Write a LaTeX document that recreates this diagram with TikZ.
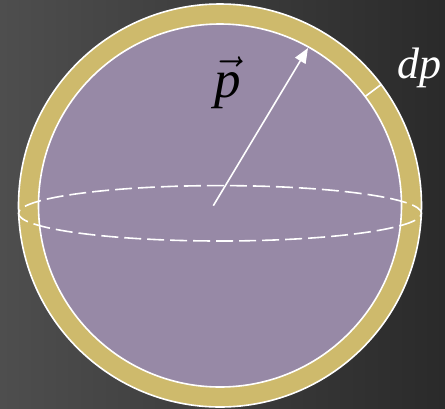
\documentclass[tikz,border=0pt]{standalone}
\usepackage{fix-cm}
\usepackage{fontspec}
\setmainfont{Liberation Serif}
\usetikzlibrary{arrows.meta,calc}
\definecolor{bgL}{RGB}{78,78,78}
\definecolor{bgR}{RGB}{42,42,42}
\definecolor{ringc}{RGB}{206,186,108}
\definecolor{ballc}{RGB}{151,137,166}
\tikzset{
  wline/.style={white,line width=1.6pt},
  lbl/.style={inner sep=0pt,anchor=base west}
}
\begin{document}
\begin{tikzpicture}[x=1pt,y=-1pt]
\shade[left color=bgL,right color=bgR] (0,0) rectangle (445,408);
\useasboundingbox (0,0) rectangle (445,408);
\coordinate (O) at (220,205.5);
\fill[ringc] (O) circle (201.5pt);
\draw[wline] (O) circle (201.5pt);
\fill[ballc] (O) circle (181.5pt);
\draw[wline] (O) circle (181.5pt);
% dp tick across ring
\coordinate (t1) at ($(O)+(36.9:181.5pt)$);
\coordinate (t2) at ($(O)+(36.9:201.5pt)$);
\draw[wline] (t1) -- (t2);
% equator ellipse
\coordinate (E) at (220,213.3);
\draw[wline,dash pattern=on 17pt off 6pt,dash phase=4pt] (E) ellipse (201.5pt and 27.7pt);
% momentum arrow
\coordinate (A0) at (213.3,205.7);
\coordinate (A1) at (308,48);
\draw[wline,-{Triangle[length=15pt,width=12pt]}] (A0) -- (A1);
% labels
\node[lbl] (p) at (214,97) {\fontsize{53}{53}\selectfont $\vec{\textit{p}}$};
\node[lbl,text=white] (dp) at (397,78) {\fontsize{44}{44}\selectfont\textit{dp}};
\end{tikzpicture}
\end{document}
